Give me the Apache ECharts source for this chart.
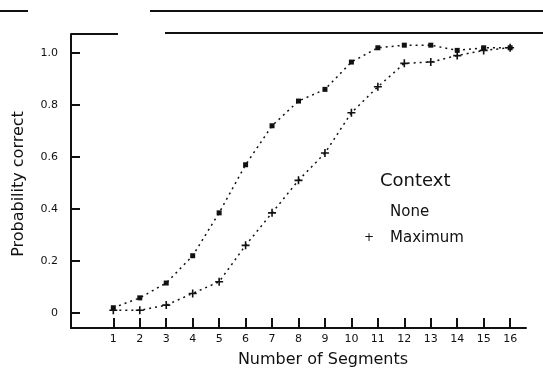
<!DOCTYPE html>
<html>
<head>
<meta charset="utf-8">
<script src="https://cdn.jsdelivr.net/npm/echarts@6/dist/echarts.min.js"></script>
<style>
  html, body { margin: 0; padding: 0; background: #fff; }
  #chart { width: 543px; height: 369px; }
</style>
</head>
<body>
<div id="chart"></div>
<script>
// Number of segments shown (x) and probability of a correct response (y)
const segments = [1, 2, 3, 4, 5, 6, 7, 8, 9, 10, 11, 12, 13, 14, 15, 16];
const noneContext = [0.02, 0.058, 0.115, 0.22, 0.385, 0.57, 0.72, 0.815, 0.86, 0.965, 1.02, 1.03, 1.03, 1.01, 1.02, 1.02];
const maximumContext = [0.01, 0.01, 0.03, 0.075, 0.12, 0.26, 0.385, 0.51, 0.615, 0.77, 0.87, 0.96, 0.965, 0.99, 1.01, 1.02];
const yTicks = [0, 0.2, 0.4, 0.6, 0.8, 1.0];
const yTickLabels = ['0', '0.2', '0.4', '0.6', '0.8', '1.0'];

const ink = '#111';
const font = 'DejaVu Sans';
const plusPath = 'path://M4,0H6V4H10V6H6V10H4V6H0V4H4Z';

const chart = echarts.init(document.getElementById('chart'));
chart.setOption({
  animation: false,
  backgroundColor: '#fff',
  grid: { left: 71, top: 34, width: 455, height: 294 },
  xAxis: {
    type: 'value',
    min: -0.6,
    max: 16.6,
    axisLine: { show: true, onZero: false, lineStyle: { color: ink, width: 2 } },
    axisTick: { show: true, inside: true, length: 10, lineStyle: { color: ink, width: 2 }, customValues: segments },
    axisLabel: { color: ink, fontFamily: font, fontSize: 11, margin: 6, customValues: segments },
    splitLine: { show: false }
  },
  yAxis: {
    type: 'value',
    min: -0.058,
    max: 1.073,
    axisLine: { show: true, onZero: false, lineStyle: { color: ink, width: 2 } },
    axisTick: { show: true, inside: true, length: 9, lineStyle: { color: ink, width: 2 }, customValues: yTicks },
    axisLabel: {
      color: ink, fontFamily: font, fontSize: 11, margin: 13,
      customValues: yTicks,
      formatter: v => yTickLabels[yTicks.findIndex(t => Math.abs(t - v) < 1e-6)] ?? ''
    },
    splitLine: { show: false }
  },
  series: [
    {
      name: 'None',
      type: 'line',
      data: segments.map((s, i) => [s, noneContext[i]]),
      symbol: 'rect',
      symbolSize: 5,
      itemStyle: { color: ink },
      lineStyle: { color: ink, width: 1.5, type: [2, 4] }
    },
    {
      name: 'Maximum',
      type: 'line',
      data: segments.map((s, i) => [s, maximumContext[i]]),
      symbol: plusPath,
      symbolSize: 8,
      itemStyle: { color: ink },
      lineStyle: { color: ink, width: 1.5, type: [2, 4] }
    }
  ],
  graphic: [
    // rules along the top of the page
    { type: 'line', shape: { x1: 0, y1: 11, x2: 28, y2: 11 }, style: { stroke: ink, lineWidth: 2 } },
    { type: 'line', shape: { x1: 150, y1: 11, x2: 543, y2: 11 }, style: { stroke: ink, lineWidth: 2 } },
    { type: 'line', shape: { x1: 71, y1: 34, x2: 118, y2: 34 }, style: { stroke: ink, lineWidth: 2 } },
    { type: 'line', shape: { x1: 165, y1: 33, x2: 543, y2: 33 }, style: { stroke: ink, lineWidth: 2 } },
    // axis titles
    {
      type: 'text', x: 19, y: 184, rotation: Math.PI / 2,
      style: { text: 'Probability correct', fill: ink, font: '16px "DejaVu Sans"', align: 'center', verticalAlign: 'middle' }
    },
    {
      type: 'text', x: 323, y: 360,
      style: { text: 'Number of Segments', fill: ink, font: '16px "DejaVu Sans"', align: 'center', verticalAlign: 'middle' }
    },
    // legend
    {
      type: 'text', x: 380, y: 181,
      style: { text: 'Context', fill: ink, font: '18px "DejaVu Sans"', align: 'left', verticalAlign: 'middle' }
    },
    {
      type: 'text', x: 390, y: 212,
      style: { text: 'None', fill: ink, font: '15px "DejaVu Sans"', align: 'left', verticalAlign: 'middle' }
    },
    {
      type: 'text', x: 364, y: 238,
      style: { text: '+', fill: ink, font: '12px "DejaVu Sans"', align: 'left', verticalAlign: 'middle' }
    },
    {
      type: 'text', x: 390, y: 238,
      style: { text: 'Maximum', fill: ink, font: '15px "DejaVu Sans"', align: 'left', verticalAlign: 'middle' }
    }
  ]
});
</script>
</body>
</html>
